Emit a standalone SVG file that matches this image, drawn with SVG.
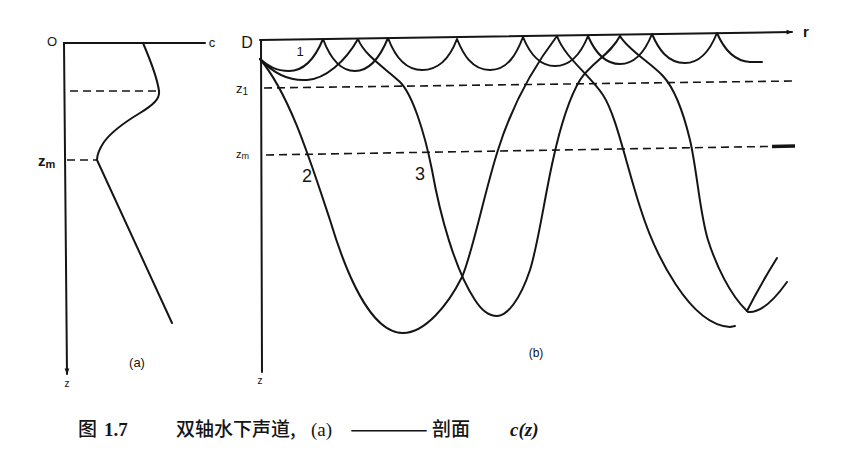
<svg xmlns="http://www.w3.org/2000/svg" width="851" height="455" viewBox="0 0 851 455">
<style>
.ax{fill:none;stroke:#151515;stroke-width:2;stroke-linecap:round}
.ray{fill:none;stroke:#151515;stroke-width:2;stroke-linecap:round;stroke-linejoin:round}
.dash{fill:none;stroke:#151515;stroke-width:1.6;stroke-dasharray:8 5}
.lbl{font-family:"Liberation Sans",Arial,sans-serif;fill:#151515}
.cap{font-family:"Noto Sans CJK SC","Liberation Serif",serif;fill:#151515;font-size:19px;font-weight:500}
.capl{font-family:"Liberation Serif",serif;fill:#151515;font-size:19px}
</style>
<defs>
<marker id="arr" viewBox="0 0 10 10" refX="9" refY="5" markerWidth="7" markerHeight="6" orient="auto" markerUnits="userSpaceOnUse">
<path d="M0,1 L10,5 L0,9 Z" fill="#151515"/>
</marker>
</defs>
<rect width="851" height="455" fill="#fff"/>

<g id="panel-a">
<path class="ax" d="M64,43 H205"/>
<path class="ax" d="M64,43 L67,374" marker-end="url(#arr)"/>
<path class="dash" d="M70,91 H159"/>
<path class="dash" d="M67,160 H97"/>
<path class="ray" d="M143,43 C149,57 157,76 159,91 C160,99 153,105 140,113 C125,122 112,131 104,142 C100,148 97,154 97,160 L172,323"/>
<text class="lbl" x="52" y="46" font-size="13" text-anchor="middle">O</text>
<text class="lbl" x="212" y="47" font-size="13" text-anchor="middle">c</text>
<text class="lbl" x="67" y="387" font-size="10" text-anchor="middle">z</text>
<text class="lbl" x="38" y="166" font-size="15" font-weight="bold">z<tspan font-size="11" dy="2">m</tspan></text>
<text class="lbl" x="137" y="367" font-size="13" text-anchor="middle">(a)</text>
</g>

<g id="panel-b-axes">
<path class="ax" d="M260,40 L792,32" marker-end="url(#arr)"/>
<path class="ax" d="M261,40 L262,372"/>
<path class="dash" d="M264,88 L793,81"/>
<path class="dash" d="M266,155 L795,146"/>
<path d="M772,146.4 L795,146" stroke="#151515" stroke-width="3.5" fill="none"/>
<text class="lbl" x="247" y="48" font-size="16" text-anchor="middle">D</text>
<text class="lbl" x="806" y="37" font-size="15" font-weight="bold" text-anchor="middle">r</text>
<text class="lbl" x="260" y="384" font-size="10" text-anchor="middle">z</text>
<text class="lbl" x="236" y="93" font-size="13">z<tspan font-size="10" dy="2">1</tspan></text>
<text class="lbl" x="236" y="158" font-size="11">z<tspan font-size="9" dy="1">m</tspan></text>
<text class="lbl" x="536" y="357" font-size="12" text-anchor="middle">(b)</text>
</g>

<g id="connectors">
<g id="ray-1">
<path class="ray" d="M260,59 C268,66 276,71 289,71 C305,71 316,56 323,39 C329,55 338,71 355,71 C371,71 381,55 388,38 C394,54 404,70 422,70 C440,70 451,55 457,39 C463,54 472,70 490,70 C508,70 517,53 523,37 C529,52 538,66 555,66 C572,66 582,51 588,36 C594,50 603,64 620,64 C637,64 646,49 652,34 C658,48 667,63 685,63 C702,63 711,48 717,33 C723,47 733,61 750,62 L762,62"/>
<text class="lbl" x="300" y="56" font-size="13" text-anchor="middle">1</text>
</g>
<g id="ray-2">
<path class="ray" d="M260,59 C290,95 310,160 330,220 C345,270 370,333 403,333 C425,333 448,305 462,277 C472,255 485,190 498,150 C508,118 525,78 557,36 C565,58 590,75 603,95 C616,115 625,160 640,207 C655,255 690,325 730,327 L735,326"/>
<text class="lbl" x="307" y="182" font-size="18" text-anchor="middle">2</text>
</g>
<g id="ray-3">
<path class="ray" d="M260,59 C275,75 292,81 307,80 C325,79 345,62 358,39 C364,55 385,68 400,82 C412,94 424,130 432,170 C440,215 455,270 475,300 C482,311 490,316 497,316 C507,316 520,300 530,270 C538,245 545,195 553,160 C560,128 568,100 580,80 C592,62 610,55 620,36 C628,50 650,62 663,76 C675,89 684,115 690,140 C697,170 700,215 708,240 C716,265 730,295 747,311"/>
<path class="ray" d="M747,311 Q759,287 777,258"/>
<path class="ray" d="M748,312 C758,313 770,306 787,282"/>
<text class="lbl" x="420" y="180" font-size="18" text-anchor="middle">3</text>
</g>
</g>

<g id="caption">
<text class="cap" x="78" y="436">图</text>
<text class="capl" x="104" y="436" style="font-weight:bold">1.7</text>
<text class="cap" x="176" y="436">双轴水下声道,</text>
<text class="capl" x="311" y="436">(a)</text>
<text class="cap" x="349" y="436" textLength="80" lengthAdjust="spacingAndGlyphs">——</text>
<text class="cap" x="432" y="436">剖面</text>
<text class="capl" x="510" y="436" style="font-weight:bold;font-style:italic">c(z)</text>
</g>
</svg>
